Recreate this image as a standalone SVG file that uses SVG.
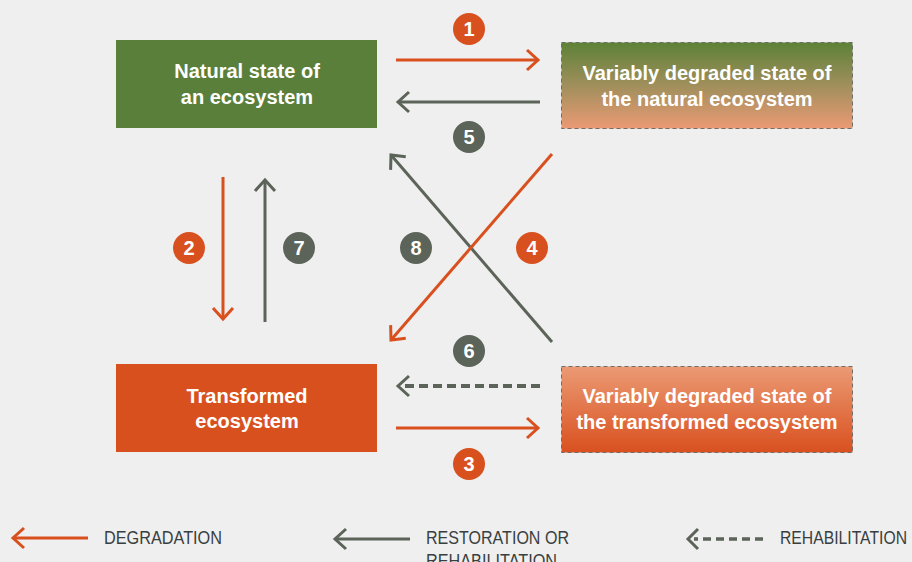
<svg xmlns="http://www.w3.org/2000/svg" width="912" height="562" viewBox="0 0 912 562">
<style>
.box{stroke:none}
.dbox{stroke:#6e6e68;stroke-width:1;stroke-dasharray:4 3}
.bt{font-family:"Liberation Sans",Arial,sans-serif;font-weight:bold;font-size:20px;fill:#ffffff;text-anchor:middle}
.num{font-family:"Liberation Sans",Arial,sans-serif;font-weight:bold;font-size:20px;fill:#ffffff;text-anchor:middle}
.or{stroke:#d9501f;stroke-width:3;fill:none}
.gr{stroke:#5c6459;stroke-width:3;fill:none}
.dash{stroke:#5c6459;stroke-width:4;fill:none;stroke-dasharray:9 5}
.lg{font-family:"Liberation Sans Narrow","Liberation Sans",Arial,sans-serif;font-size:18px;fill:#38403f}
marker{overflow:visible}
</style>
<defs>
<marker id="ao" viewBox="-14 -12 18 24" refX="0" refY="0" markerWidth="18" markerHeight="24" markerUnits="userSpaceOnUse" orient="auto"><path d="M-11,-10 L0,0 L-11,10" fill="none" stroke="#d9501f" stroke-width="3"/></marker>
<marker id="ag" viewBox="-14 -12 18 24" refX="0" refY="0" markerWidth="18" markerHeight="24" markerUnits="userSpaceOnUse" orient="auto"><path d="M-11,-10 L0,0 L-11,10" fill="none" stroke="#5c6459" stroke-width="3"/></marker>
<linearGradient id="g2" x1="0" y1="0" x2="0" y2="1">
<stop offset="0" stop-color="#5d8137"/>
<stop offset="0.5" stop-color="#a08f5c"/>
<stop offset="1" stop-color="#eb9a74"/>
</linearGradient>
<linearGradient id="g4" x1="0" y1="0" x2="0" y2="1">
<stop offset="0" stop-color="#eb9a74"/>
<stop offset="1" stop-color="#d9501f"/>
</linearGradient>
</defs>
<rect width="912" height="562" fill="#efefef"/>

<g id="node-natural">
<rect class="box" x="116" y="40" width="261" height="88" fill="#5a7f3a"/>
<text class="bt" x="247" y="78">Natural state of</text>
<text class="bt" x="247" y="104">an ecosystem</text>
</g>
<g id="node-degraded-natural">
<rect class="dbox" x="561.5" y="42.5" width="291" height="86" fill="url(#g2)"/>
<text class="bt" x="707" y="80">Variably degraded state of</text>
<text class="bt" x="707" y="106">the natural ecosystem</text>
</g>
<g id="node-transformed">
<rect class="box" x="116" y="364" width="261" height="88" fill="#d9501f"/>
<text class="bt" x="247" y="403">Transformed</text>
<text class="bt" x="247" y="428">ecosystem</text>
</g>
<g id="node-degraded-transformed">
<rect class="dbox" x="561.5" y="366.5" width="291" height="86" fill="url(#g4)"/>
<text class="bt" x="707" y="403">Variably degraded state of</text>
<text class="bt" x="707" y="429">the transformed ecosystem</text>
</g>

<g id="connectors">
<line class="or" x1="396" y1="60" x2="538" y2="60" marker-end="url(#ao)"/>
<line class="gr" x1="540" y1="102" x2="398" y2="102" marker-end="url(#ag)"/>
<line class="or" x1="223" y1="177" x2="223" y2="319" marker-end="url(#ao)"/>
<line class="gr" x1="265" y1="322" x2="265" y2="180" marker-end="url(#ag)"/>
<line class="gr" x1="552" y1="342" x2="391" y2="155" marker-end="url(#ag)"/>
<line class="or" x1="552" y1="154" x2="391" y2="340" marker-end="url(#ao)"/>
<line class="dash" x1="540" y1="386" x2="401" y2="386"/>
<path class="gr" d="M409,376 L398,386 L409,396"/>
<line class="or" x1="396" y1="428" x2="538" y2="428" marker-end="url(#ao)"/>
</g>

<g id="labels">
<circle cx="469" cy="29" r="16" fill="#d9501f"/><text class="num" x="469" y="36">1</text>
<circle cx="469" cy="137" r="16" fill="#5c6459"/><text class="num" x="469" y="144">5</text>
<circle cx="189" cy="248" r="16" fill="#d9501f"/><text class="num" x="189" y="255">2</text>
<circle cx="299" cy="248" r="16" fill="#5c6459"/><text class="num" x="299" y="255">7</text>
<circle cx="416" cy="248" r="16" fill="#5c6459"/><text class="num" x="416" y="255">8</text>
<circle cx="532" cy="248" r="16" fill="#d9501f"/><text class="num" x="532" y="255">4</text>
<circle cx="469" cy="351" r="16" fill="#5c6459"/><text class="num" x="469" y="358">6</text>
<circle cx="469" cy="464" r="16" fill="#d9501f"/><text class="num" x="469" y="471">3</text>
</g>

<g id="legend">
<line class="or" x1="88" y1="538" x2="13" y2="538" marker-end="url(#ao)"/>
<text class="lg" x="104" y="544" textLength="118" lengthAdjust="spacingAndGlyphs">DEGRADATION</text>
<line class="gr" x1="410" y1="539" x2="335" y2="539" marker-end="url(#ag)"/>
<text class="lg" x="426" y="544" textLength="143" lengthAdjust="spacingAndGlyphs">RESTORATION OR</text>
<text class="lg" x="426" y="567" textLength="131" lengthAdjust="spacingAndGlyphs">REHABILITATION</text>
<line class="dash" x1="763" y1="539" x2="694" y2="539" style="stroke-dasharray:8 5;stroke-width:3.5"/>
<path class="gr" d="M698,529 L688,539 L698,549"/>
<text class="lg" x="780" y="544" textLength="127" lengthAdjust="spacingAndGlyphs">REHABILITATION</text>
</g>
</svg>
